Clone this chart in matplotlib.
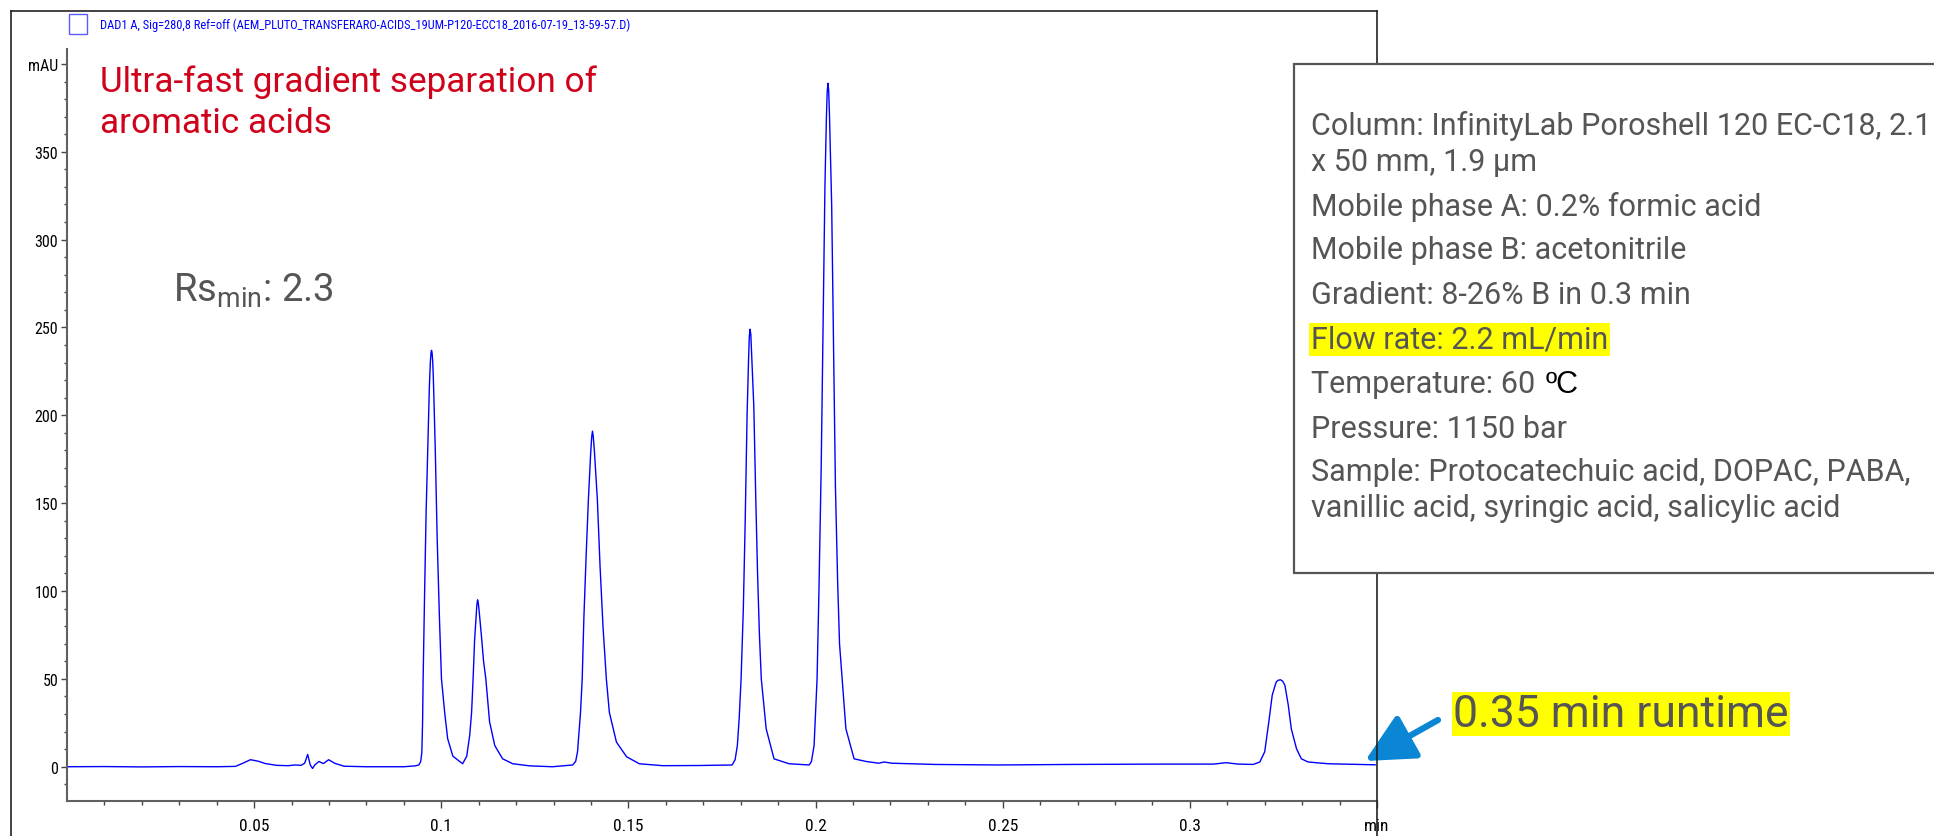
import matplotlib
matplotlib.use('Agg')
import matplotlib.pyplot as plt
from matplotlib.lines import Line2D
from matplotlib.patches import Rectangle

W, H = 1934, 837

# chromatogram trace (min, mAU)
time_min = [0.000, 0.010, 0.020, 0.030, 0.040, 0.045, 0.047, 0.049, 0.051, 0.053,
            0.056, 0.059, 0.061, 0.0625, 0.0635, 0.0643, 0.0650, 0.0656, 0.0662, 0.0673,
            0.0685, 0.0699, 0.0715, 0.0740, 0.080, 0.090, 0.0930,
            # peak 1
            0.0940, 0.0945, 0.0948, 0.0950, 0.09515, 0.09555, 0.09595, 0.09648, 0.0968,
            0.09695, 0.0971, 0.09725, 0.09739, 0.09755, 0.0977, 0.09785, 0.0980, 0.0984,
            0.0989, 0.0995, 0.10005, 0.1009, 0.1017, 0.1031, 0.1049, 0.1057,
            # peak 2
            0.1068, 0.1076, 0.1081, 0.1085, 0.1089, 0.1093, 0.1095, 0.1097, 0.1099,
            0.1101, 0.1107, 0.1113, 0.1119, 0.1129, 0.1143, 0.1164, 0.1191, 0.1236,
            0.1297, 0.1351,
            # peak 3
            0.1359, 0.1364, 0.1372, 0.13765, 0.1381, 0.1387, 0.1393, 0.1399, 0.1402,
            0.1404, 0.1406, 0.1409, 0.1417, 0.1424, 0.1432, 0.1441, 0.1449, 0.1468,
            0.1495, 0.1529, 0.1591, 0.1689, 0.1777,
            # peak 4
            0.1785, 0.1791, 0.1796, 0.1801, 0.1807, 0.1812, 0.1817, 0.1821, 0.1823,
            0.1825, 0.1827, 0.1829, 0.1835, 0.1840, 0.1845, 0.1850, 0.1855, 0.1868,
            0.1889, 0.1929, 0.1983,
            # peak 5
            0.1989, 0.1996, 0.2004, 0.2009, 0.2015, 0.2020, 0.2025, 0.2029, 0.2031,
            0.2033, 0.2035, 0.2037, 0.2043, 0.2048, 0.2053, 0.2059, 0.2064, 0.2071,
            0.2081, 0.2103, 0.2135, 0.2169, 0.2183, 0.2204, 0.2321, 0.2489, 0.2679,
            0.2919, 0.3063, 0.3097, 0.3129, 0.3169,
            # peak 6
            0.3187, 0.3200, 0.3211, 0.3220, 0.3226, 0.3231, 0.3236, 0.3242, 0.3248,
            0.3254, 0.3263, 0.3271, 0.3285, 0.3298, 0.3316, 0.3369, 0.3495]
signal_mau = [0.0, 0.1, -0.1, 0.1, 0.0, 0.2, 2.0, 4.0, 3.2, 1.8,
              0.8, 0.6, 1.0, 0.8, 2.0, 7.0, 1.0, -1.0, 1.0, 3.0,
              1.8, 4.0, 2.0, 0.3, 0.0, 0.0, 0.5,
              # peak 1
              1.0, 3.0, 8.0, 25, 50, 100, 145, 190, 215,
              224, 231, 235.5, 237, 235.5, 231, 223, 212, 180,
              130, 85, 50, 31, 16, 6.0, 3.0, 1.7,
              # peak 2
              6.0, 18, 31, 50, 72, 86, 92, 95, 93,
              89, 75, 60, 50, 25.6, 12, 4.5, 1.7, 0.5,
              0.0, 1.0,
              # peak 3
              3.0, 8.5, 31, 50, 85, 120, 152, 178, 188,
              191, 188, 180, 152, 115, 80, 50, 31, 14,
              5.7, 1.7, 0.6, 0.7, 1.0,
              # peak 4
              4.0, 12, 28, 50, 90, 140, 200, 232, 245,
              249, 246, 236, 205, 155, 110, 75, 50, 21.6,
              4.5, 1.7, 1.0,
              # peak 5
              3.0, 12, 50, 100, 170, 250, 330, 370, 384,
              389, 385, 372, 320, 240, 160, 105, 70, 50,
              21.6, 4.5, 3.0, 2.0, 2.7, 2.0, 1.3, 1.0, 1.3,
              1.5, 1.5, 2.3, 1.5, 1.3,
              # peak 6
              2.7, 8.5, 25.6, 40.6, 45, 48.3, 49.2, 49.5, 48.7,
              46.3, 35, 21.6, 10.2, 4.5, 2.7, 1.7, 1.1]

y_ticks = [0, 50, 100, 150, 200, 250, 300, 350, 400]
y_labels = ['0', '50', '100', '150', '200', '250', '300', '350', 'mAU']
x_ticks = [0.05, 0.1, 0.15, 0.2, 0.25, 0.3, 0.35]
x_labels = ['0.05', '0.1', '0.15', '0.2', '0.25', '0.3', 'min']

trace_name = 'DAD1 A, Sig=280,8 Ref=off (AEM_PLUTO_TRANSFERARO-ACIDS_19UM-P120-ECC18_2016-07-19_13-59-57.D)'
title_lines = ['Ultra-fast gradient separation of', 'aromatic acids']
rs_min = 2.3
runtime_note = '0.35 min runtime'
conditions = [
    'Column: InfinityLab Poroshell 120 EC-C18, 2.1',
    'x 50 mm, 1.9 µm',
    'Mobile phase A: 0.2% formic acid',
    'Mobile phase B: acetonitrile',
    'Gradient: 8-26% B in 0.3 min',
    'Flow rate: 2.2 mL/min',
    'Temperature: 60',
    'Pressure: 1150 bar',
    'Sample: Protocatechuic acid, DOPAC, PABA,',
    'vanillic acid, syringic acid, salicylic acid',
]
condition_baselines = [135, 171, 216, 259, 304, 349, 393, 438, 481, 517]

narrow = ['Liberation Sans Narrow', 'Roboto Condensed', 'Liberation Sans', 'DejaVu Sans']
roboto = ['Roboto', 'DejaVu Sans']
plt.rcParams['mathtext.fontset'] = 'custom'
plt.rcParams['mathtext.rm'] = 'Roboto'


def fp(x, y):
    # reference pixel -> figure fraction
    return x / W, 1 - y / H


fig = plt.figure(figsize=(W / 100, H / 100), dpi=100)
ax = fig.add_axes([67 / W, 1 - 802 / H, (1377 - 67) / W, (802 - 50) / H])

ax.plot(time_min, signal_mau, color='#0000ff', lw=1.0)
ax.set_xlim(0, 0.35)
ax.set_ylim(-19.5, 408.5)

ax.set_yticks(y_ticks)
ax.set_yticklabels(y_labels, family=narrow, stretch='condensed', fontsize=11.5)
ax.set_yticks(range(-10, 410, 10), minor=True)
ax.set_xticks(x_ticks)
ax.set_xticklabels(x_labels, family=narrow, stretch='condensed', fontsize=12.5)
ax.set_xticks([i / 100 for i in range(1, 35)], minor=True)
ax.tick_params(axis='y', which='major', length=4.3, width=1, color='#444444', pad=2)
ax.tick_params(axis='y', which='minor', length=2.2, width=1, color='#444444')
ax.tick_params(axis='x', which='major', length=5, width=1, color='#444444', pad=7.5)
ax.tick_params(axis='x', which='minor', length=3, width=1, color='#444444')
for s in ['top', 'right']:
    ax.spines[s].set_visible(False)
for s in ['left', 'bottom']:
    ax.spines[s].set_color('#606060')
    ax.spines[s].set_linewidth(1.5)

# outer frame of the report
frame_kw = dict(transform=fig.transFigure, color='#222222', lw=1.2, zorder=5)
x0, y0 = fp(11, 12)
x1, _ = fp(1377, 12)
fig.add_artist(Line2D([x0, x0], [-0.01, y0], **frame_kw))
fig.add_artist(Line2D([x0, x1], [y0, y0], **frame_kw))
fig.add_artist(Line2D([x1, x1], [-0.01, y0], **frame_kw))

# trace legend
lx, ly = fp(69, 35)
fig.add_artist(Rectangle((lx, ly), 18 / W, 20 / H, transform=fig.transFigure,
                         fill=False, edgecolor='#5a5aff', lw=1, zorder=5))
fig.text(*fp(100, 25), trace_name, family=narrow, stretch='condensed', fontsize=8.9,
         color='#0000ff', va='center', ha='left')

# annotations
fig.text(*fp(100, 92), title_lines[0], family=roboto, fontsize=25.3, color='#d0021b', va='baseline')
fig.text(*fp(100, 133), title_lines[1], family=roboto, fontsize=25.3, color='#d0021b', va='baseline')
fig.text(*fp(173, 302), r'Rs$_{\mathrm{min}}$: ' + str(rs_min), family=roboto, fontsize=27.5,
         color='#555555', va='baseline')

bx, by = fp(1294, 574)
fig.add_artist(Rectangle((bx, by), (1960 - 1294) / W, (574 - 65) / H, transform=fig.transFigure,
                         facecolor='white', edgecolor='#555555', lw=1.6, zorder=6))
for line, base in zip(conditions, condition_baselines):
    kw = dict(family=roboto, fontsize=22, color='#555555', va='baseline', ha='left', zorder=7)
    if line.startswith('Flow'):
        kw['bbox'] = dict(facecolor='#ffff00', edgecolor='none', pad=1)
    fig.text(*fp(1311, base), line, **kw)
    if line.startswith('Temperature'):
        fig.text(*fp(1546, base), 'ºC', family=['Liberation Sans', 'DejaVu Sans'], fontsize=22,
                 color='black', va='baseline', ha='left', zorder=7)

fig.text(*fp(1453, 715), runtime_note, family=roboto, fontsize=32, color='#555555',
         va='center', ha='left',
         bbox=dict(facecolor='#ffff00', edgecolor='none', pad=1))
ax.annotate('', xy=fp(1365, 762), xytext=fp(1438, 721),
            xycoords='figure fraction', textcoords='figure fraction',
            arrowprops=dict(arrowstyle='-|>,head_length=1.5,head_width=0.75',
                            lw=4.5, color='#0a86d4', mutation_scale=20,
                            shrinkA=0, shrinkB=0),
            annotation_clip=False)

fig.savefig('out.png', dpi=100)
